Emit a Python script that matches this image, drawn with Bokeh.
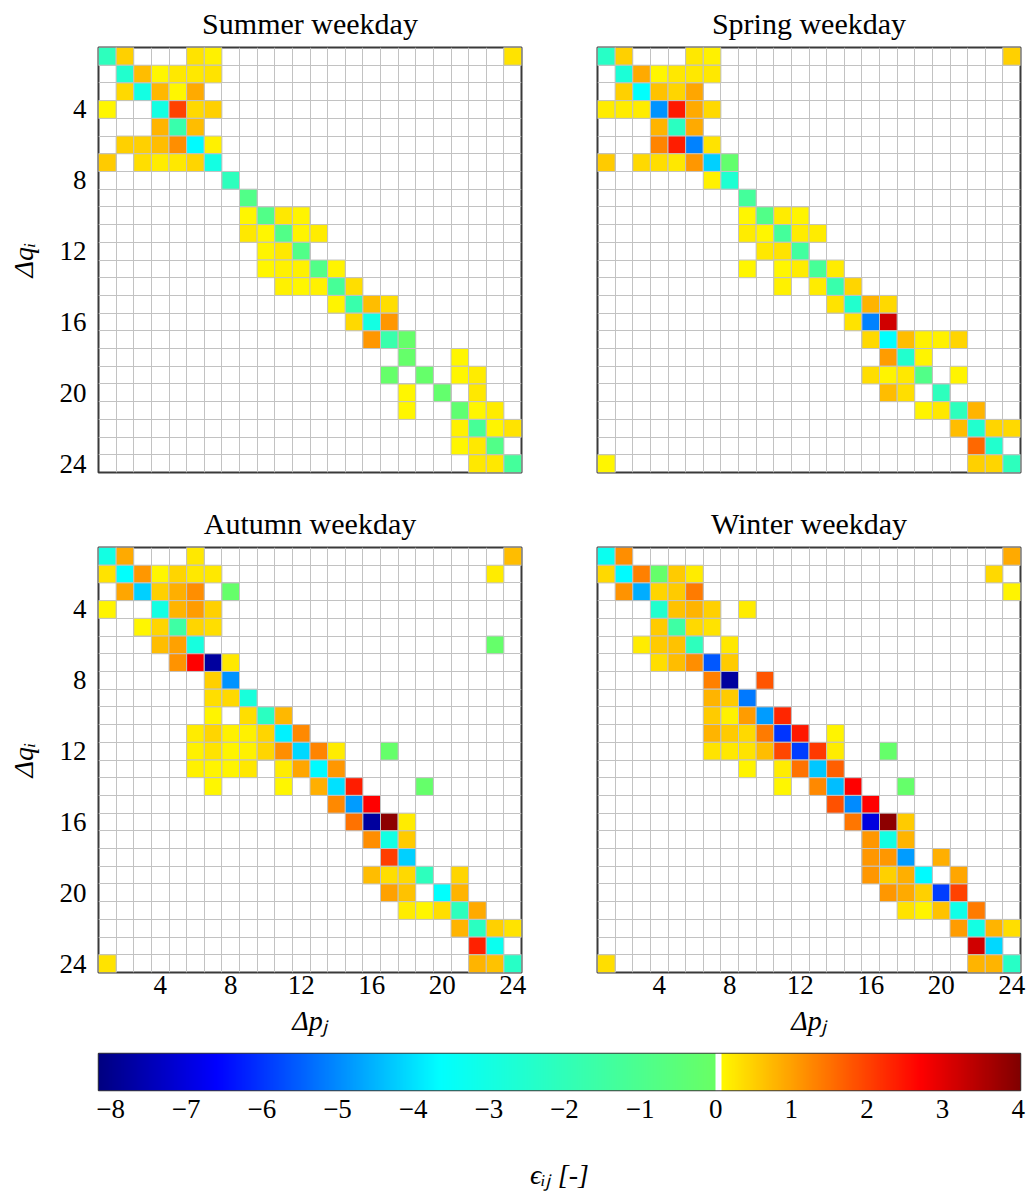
import numpy as np
from bokeh.plotting import figure
from bokeh.models import (ColumnDataSource, LinearColorMapper, FixedTicker,
                          Range1d, Grid)
from bokeh.layouts import column, row
from bokeh.embed import file_html
from bokeh.resources import INLINE

# ---------------------------------------------------------------- data
hour_ticks = [4, 8, 12, 16, 20, 24]
cbar_ticks = [-8, -7, -6, -5, -4, -3, -2, -1, 0, 1, 2, 3, 4]
cbar_tick_labels = ["\u22128", "\u22127", "\u22126", "\u22125", "\u22124", "\u22123",
                    "\u22122", "\u22121", "0", "1", "2", "3", "4"]
titles = ["Summer weekday", "Spring weekday", "Autumn weekday", "Winter weekday"]
y_label = "\u0394q\u1d62"          # Δq_i
x_label = "\u0394p\u2c7c"          # Δp_j
cbar_label = "\u03f5\u1d62\u2c7c [-]"  # ϵ_ij [-]

# (row i, column j, elasticity) for the non-zero cells of each matrix
summer = [
    (1, 1, -2.1), (1, 2, 0.5), (1, 6, 0.3), (1, 7, 0.15), (1, 24, 0.3),
    (2, 2, -2.5), (2, 3, 0.7), (2, 4, 0.1), (2, 5, 0.25), (2, 6, 0.25), (2, 7, 0.3),
    (3, 2, 0.4), (3, 3, -3.0), (3, 4, 0.75), (3, 5, 0.1), (3, 6, 0.9),
    (4, 1, 0.1), (4, 4, -3.0), (4, 5, 2.0), (4, 6, 0.4), (4, 7, 0.5),
    (5, 4, 0.8), (5, 5, -1.7), (5, 6, 0.7),
    (6, 2, 0.5), (6, 3, 0.5), (6, 4, 0.7), (6, 5, 1.2), (6, 6, -3.7), (6, 7, 0.15),
    (7, 1, 0.55), (7, 3, 0.35), (7, 4, 0.2), (7, 5, 0.25), (7, 6, 0.45), (7, 7, -3.0),
    (8, 8, -2.1),
    (9, 9, -0.85),
    (10, 9, 0.1), (10, 10, -0.85), (10, 11, 0.25), (10, 12, 0.12),
    (11, 9, 0.25), (11, 10, 0.1), (11, 11, -0.85), (11, 12, 0.12), (11, 13, 0.2),
    (12, 10, 0.12), (12, 11, 0.25), (12, 12, -0.85),
    (13, 10, 0.1), (13, 11, 0.15), (13, 12, 0.15), (13, 13, -0.85), (13, 14, 0.12),
    (14, 11, 0.15), (14, 12, 0.1), (14, 13, 0.15), (14, 14, -1.2), (14, 15, 0.35),
    (15, 14, 0.12), (15, 15, -1.7), (15, 16, 0.7), (15, 17, 0.35),
    (16, 15, 0.4), (16, 16, -3.0), (16, 17, 1.1),
    (17, 16, 1.1), (17, 17, -1.7), (17, 18, -0.15),
    (18, 18, -0.15), (18, 21, 0.1),
    (19, 17, -0.15), (19, 19, -0.15), (19, 21, 0.1), (19, 22, 0.2),
    (20, 18, 0.1), (20, 20, -0.2), (20, 22, 0.25),
    (21, 18, 0.1), (21, 21, -0.3), (21, 22, 0.1), (21, 23, 0.2),
    (22, 21, 0.15), (22, 22, -1.2), (22, 23, 0.12), (22, 24, 0.3),
    (23, 21, 0.1), (23, 22, 0.25), (23, 23, -0.85),
    (24, 22, 0.25), (24, 23, 0.25), (24, 24, -1.3),
]

spring = [
    (1, 1, -2.3), (1, 2, 0.5), (1, 6, 0.25), (1, 7, 0.15), (1, 24, 0.5),
    (2, 2, -2.7), (2, 3, 0.9), (2, 4, 0.1), (2, 5, 0.25), (2, 6, 0.25), (2, 7, 0.25),
    (3, 2, 0.5), (3, 3, -3.6), (3, 4, 0.65), (3, 5, 0.45), (3, 6, 0.95),
    (4, 1, 0.2), (4, 2, 0.2), (4, 3, 0.2), (4, 4, -4.9), (4, 5, 2.45), (4, 6, 0.9), (4, 7, 0.4),
    (5, 4, 0.8), (5, 5, -2.2), (5, 6, 0.9),
    (6, 4, 1.3), (6, 5, 2.4), (6, 6, -5.1), (6, 7, 0.3),
    (7, 1, 0.55), (7, 3, 0.4), (7, 4, 0.35), (7, 5, 0.25), (7, 6, 1.1), (7, 7, -4.2), (7, 8, -0.2),
    (8, 7, 0.15), (8, 8, -2.6),
    (9, 9, -1.3),
    (10, 9, 0.1), (10, 10, -0.85), (10, 11, 0.2), (10, 12, 0.12),
    (11, 9, 0.2), (11, 10, 0.1), (11, 11, -1.3), (11, 12, 0.2), (11, 13, 0.2),
    (12, 10, 0.25), (12, 11, 0.3), (12, 12, -1.4),
    (13, 9, 0.1), (13, 11, 0.1), (13, 12, 0.2), (13, 13, -1.2), (13, 14, 0.2),
    (14, 11, 0.15), (14, 13, 0.2), (14, 14, -1.7), (14, 15, 0.45),
    (15, 14, 0.3), (15, 15, -2.5), (15, 16, 0.8), (15, 17, 0.4),
    (16, 15, 0.3), (16, 16, -5.1), (16, 17, 3.2),
    (17, 16, 0.4), (17, 17, -3.6), (17, 18, 0.7), (17, 19, 0.15), (17, 20, 0.15), (17, 21, 0.45),
    (18, 17, 1.05), (18, 18, -2.5), (18, 19, 0.12),
    (19, 16, 0.35), (19, 17, 0.12), (19, 18, 0.25), (19, 19, -0.85), (19, 21, 0.12),
    (20, 17, 0.7), (20, 18, 0.35), (20, 20, -2.1),
    (21, 19, 0.12), (21, 20, 0.25), (21, 21, -2.1), (21, 22, 0.8),
    (22, 21, 0.7), (22, 22, -2.5), (22, 23, 0.45), (22, 24, 0.4),
    (23, 22, 1.6), (23, 23, -2.5),
    (24, 1, 0.1), (24, 22, 0.5), (24, 23, 0.45), (24, 24, -2.1),
]

autumn = [
    (1, 1, -3.0), (1, 2, 0.9), (1, 6, 0.25), (1, 24, 0.7),
    (2, 1, 0.3), (2, 2, -3.6), (2, 3, 1.1), (2, 4, 0.1), (2, 5, 0.45), (2, 6, 0.25), (2, 7, 0.25), (2, 23, 0.2),
    (3, 2, 0.95), (3, 3, -4.2), (3, 4, 0.5), (3, 5, 0.85), (3, 6, 1.2), (3, 8, -0.15),
    (4, 1, 0.12), (4, 4, -3.0), (4, 5, 0.8), (4, 6, 1.05), (4, 7, 0.5),
    (5, 3, 0.1), (5, 4, 0.45), (5, 5, -1.5), (5, 6, 0.45), (5, 7, 0.35),
    (6, 4, 0.7), (6, 5, 1.0), (6, 6, -2.9), (6, 23, -0.15),
    (7, 5, 1.15), (7, 6, 2.7), (7, 7, -7.8), (7, 8, 0.25),
    (8, 7, 0.5), (8, 8, -4.9),
    (9, 7, 0.35), (9, 8, 0.4), (9, 9, -2.8),
    (10, 7, 0.12), (10, 9, 0.35), (10, 10, -2.2), (10, 11, 0.75),
    (11, 6, 0.2), (11, 7, 0.45), (11, 8, 0.15), (11, 9, 0.15), (11, 10, 0.45), (11, 11, -3.8), (11, 12, 1.25),
    (12, 6, 0.15), (12, 7, 0.3), (12, 8, 0.12), (12, 9, 0.15), (12, 10, 0.45), (12, 11, 1.2),
    (12, 12, -4.1), (12, 13, 1.3), (12, 14, 0.2), (12, 17, -0.15),
    (13, 6, 0.15), (13, 7, 0.12), (13, 8, 0.12), (13, 9, 0.25), (13, 11, 0.2), (13, 12, 0.95),
    (13, 13, -3.7), (13, 14, 1.1),
    (14, 7, 0.1), (14, 11, 0.1), (14, 13, 0.85), (14, 14, -4.0), (14, 15, 2.4), (14, 19, -0.15),
    (15, 14, 1.25), (15, 15, -4.8), (15, 16, 2.7),
    (16, 15, 1.5), (16, 16, -7.8), (16, 17, 3.9), (16, 18, 0.2),
    (17, 16, 1.2), (17, 17, -3.0), (17, 18, 0.55),
    (18, 17, 2.05), (18, 18, -4.2),
    (19, 16, 0.7), (19, 17, 0.35), (19, 18, 0.4), (19, 19, -2.1), (19, 21, 0.45),
    (20, 17, 1.0), (20, 18, 0.65), (20, 20, -3.6), (20, 21, 0.8),
    (21, 18, 0.2), (21, 19, 0.1), (21, 20, 0.35), (21, 21, -2.1), (21, 22, 0.9),
    (22, 21, 0.8), (22, 22, -2.2), (22, 23, 0.5), (22, 24, 0.3),
    (23, 22, 2.35), (23, 23, -3.3),
    (24, 1, 0.3), (24, 22, 0.8), (24, 23, 0.65), (24, 24, -2.3),
]

winter = [
    (1, 1, -3.3), (1, 2, 1.2), (1, 24, 0.9),
    (2, 1, 0.4), (2, 2, -3.7), (2, 3, 1.35), (2, 4, -0.15), (2, 5, 0.55), (2, 6, 0.2), (2, 23, 0.4),
    (3, 2, 1.15), (3, 3, -4.6), (3, 4, 0.45), (3, 5, 0.55), (3, 6, 1.4), (3, 24, 0.12),
    (4, 4, -2.5), (4, 5, 0.65), (4, 6, 0.8), (4, 7, 0.5), (4, 9, 0.2),
    (5, 4, 0.55), (5, 5, -1.5), (5, 6, 0.4), (5, 7, 0.3),
    (6, 3, 0.2), (6, 4, 0.55), (6, 5, 0.65), (6, 6, -2.1), (6, 8, 0.25),
    (7, 4, 0.35), (7, 5, 0.7), (7, 6, 1.2), (7, 7, -5.6), (7, 8, 0.55),
    (8, 7, 1.35), (8, 8, -7.8), (8, 10, 1.8),
    (9, 7, 0.8), (9, 8, 0.55), (9, 9, -5.2),
    (10, 7, 0.55), (10, 8, 0.15), (10, 9, 1.05), (10, 10, -4.8), (10, 11, 2.3),
    (11, 7, 0.8), (11, 8, 0.55), (11, 9, 0.4), (11, 10, 1.4), (11, 11, -6.0), (11, 12, 2.45), (11, 14, 0.12),
    (12, 7, 0.3), (12, 8, 0.25), (12, 9, 0.3), (12, 10, 0.7), (12, 11, 1.95), (12, 12, -5.9),
    (12, 13, 2.1), (12, 14, 0.2), (12, 17, -0.15),
    (13, 9, 0.12), (13, 11, 0.2), (13, 12, 1.5), (13, 13, -4.3), (13, 14, 1.7),
    (14, 11, 0.1), (14, 13, 1.25), (14, 14, -4.4), (14, 15, 2.7), (14, 18, -0.15),
    (15, 14, 1.85), (15, 15, -5.0), (15, 16, 2.7),
    (16, 15, 1.45), (16, 16, -7.0), (16, 17, 3.9), (16, 18, 0.55),
    (17, 16, 1.1), (17, 17, -3.0), (17, 18, 0.8),
    (18, 16, 1.1), (18, 17, 1.1), (18, 18, -4.8), (18, 20, 0.85),
    (19, 16, 1.1), (19, 17, 0.5), (19, 18, 0.85), (19, 19, -3.7), (19, 21, 0.95),
    (20, 17, 1.1), (20, 18, 0.9), (20, 19, 0.5), (20, 20, -5.9), (20, 21, 2.0),
    (21, 18, 0.3), (21, 19, 0.12), (21, 20, 0.65), (21, 21, -3.1), (21, 22, 1.4),
    (22, 21, 1.05), (22, 22, -3.0), (22, 23, 0.8), (22, 24, 0.35),
    (23, 22, 3.2), (23, 23, -4.1),
    (24, 1, 0.35), (24, 22, 0.8), (24, 23, 0.8), (24, 24, -2.3),
]

# ---------------------------------------------------------------- colour map
CB_LOW, CB_HIGH = -8.16, 4.03
NEG_STOPS = [(-8.16, (0, 0, 128)), (-6.6, (0, 0, 255)),
             (-3.65, (0, 255, 255)), (0.0, (105, 255, 100))]
POS_STOPS = [(0.0, (255, 255, 0)), (2.7, (255, 0, 0)), (4.03, (128, 0, 0))]
ZERO_BAND = 0.08
N_COLORS = 1220


def _interp(stops, v):
    v = min(max(v, stops[0][0]), stops[-1][0])
    for (v0, c0), (v1, c1) in zip(stops[:-1], stops[1:]):
        if v0 <= v <= v1:
            t = (v - v0) / (v1 - v0) if v1 > v0 else 0.0
            return tuple(int(round(a + (b - a) * t)) for a, b in zip(c0, c1))
    return stops[-1][1]


def _color(v):
    if v < 0:
        rgb = _interp(NEG_STOPS, v)
    elif v < ZERO_BAND:
        rgb = (255, 255, 255)
    else:
        rgb = _interp(POS_STOPS, v)
    return "#%02x%02x%02x" % rgb


step = (CB_HIGH - CB_LOW) / N_COLORS
palette = [_color(CB_LOW + (k + 0.5) * step) for k in range(N_COLORS)]
mapper = LinearColorMapper(palette=palette, low=CB_LOW, high=CB_HIGH)

SERIF = "Liberation Serif"
GRID_COLOR = "#c2c2c2"
FRAME_W, FRAME_H = 423, 425


def style_axis(ax, standoff, label, label_standoff):
    ax.major_tick_line_color = None
    ax.minor_tick_line_color = None
    ax.axis_line_color = None
    ax.major_label_text_font = SERIF
    ax.major_label_text_font_size = "27px"
    ax.major_label_text_color = "black"
    ax.major_label_standoff = standoff
    ax.axis_label = label
    ax.axis_label_text_font = SERIF
    ax.axis_label_text_font_size = "28px"
    ax.axis_label_text_font_style = "italic"
    ax.axis_label_text_color = "black"
    ax.axis_label_standoff = label_standoff


def panel(title, cells, left_axis, bottom_axis, borders):
    bl, br, bt, bb = borders
    p = figure(frame_width=FRAME_W, frame_height=FRAME_H,
               x_range=Range1d(0.5, 24.5), y_range=Range1d(24.5, 0.5),
               x_axis_location="below" if bottom_axis else None,
               y_axis_location="left" if left_axis else None,
               min_border_left=bl, min_border_right=br,
               min_border_top=bt, min_border_bottom=bb,
               output_backend="svg", toolbar_location=None, title=title)
    p.title.align = "center"
    p.title.vertical_align = "top"
    p.title.text_font = SERIF
    p.title.text_font_size = "30px"
    p.title.text_font_style = "normal"
    p.title.text_color = "black"
    p.title.standoff = 11

    p.grid.visible = False
    bounds = [k + 0.5 for k in range(25)]
    for dim in (0, 1):
        p.add_layout(Grid(dimension=dim, ticker=FixedTicker(ticks=bounds),
                          grid_line_color=GRID_COLOR, grid_line_width=1))

    src = ColumnDataSource(dict(i=[c[0] for c in cells], j=[c[1] for c in cells],
                                v=[c[2] for c in cells]))
    p.rect(x="j", y="i", width=1, height=1, source=src,
           fill_color={"field": "v", "transform": mapper},
           line_color=GRID_COLOR, line_width=1)

    p.outline_line_color = "#3a3a3a"
    p.outline_line_width = 2
    p.background_fill_color = "white"
    p.border_fill_color = "white"

    if left_axis:
        p.yaxis.ticker = FixedTicker(ticks=hour_ticks)
        style_axis(p.yaxis, 6, y_label, 18)
    if bottom_axis:
        p.xaxis.ticker = FixedTicker(ticks=hour_ticks)
        style_axis(p.xaxis, -3, x_label, 8)
    return p


p_summer = panel(titles[0], summer, True, False, (98, 38, 47, 28))
p_spring = panel(titles[1], spring, False, False, (38, 7, 47, 28))
p_autumn = panel(titles[2], autumn, True, True, (98, 38, 47, 70))
p_winter = panel(titles[3], winter, False, True, (38, 7, 47, 70))

# ---------------------------------------------------------------- colour bar
pc = figure(frame_width=922, frame_height=37,
            x_range=Range1d(CB_LOW, CB_HIGH), y_range=Range1d(0, 1),
            y_axis_location=None, min_border_left=98, min_border_right=7,
            min_border_top=11, min_border_bottom=110,
            output_backend="svg", toolbar_location=None)
gradient = np.array([[CB_LOW + (k + 0.5) * step for k in range(N_COLORS)]])
pc.image(image=[gradient], x=CB_LOW, y=0, dw=CB_HIGH - CB_LOW, dh=1,
         color_mapper=mapper)
pc.grid.visible = False
pc.outline_line_color = "#3a3a3a"
pc.outline_line_width = 1.5
pc.xaxis.ticker = FixedTicker(ticks=cbar_ticks)
pc.xaxis.major_label_overrides = {t: s for t, s in zip(cbar_ticks, cbar_tick_labels)}
style_axis(pc.xaxis, 3, cbar_label, 38)

layout = column(row(p_summer, p_spring), row(p_autumn, p_winter), pc)

open("out.html", "w").write(file_html(layout, INLINE))
